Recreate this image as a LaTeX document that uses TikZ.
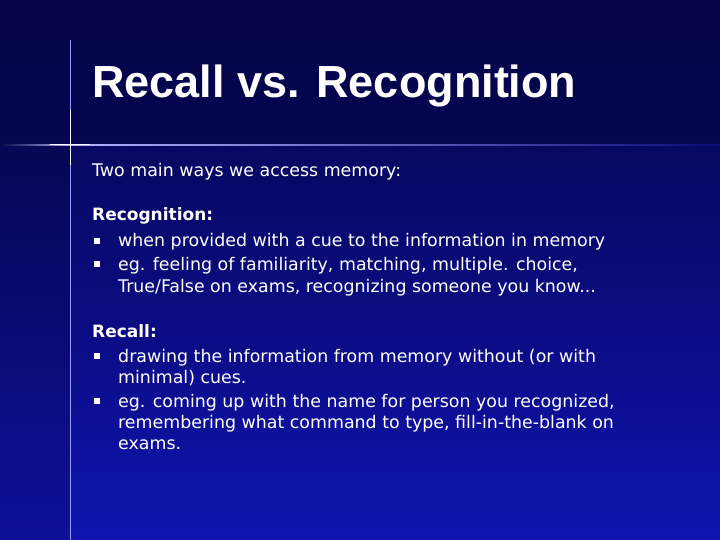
\documentclass[tikz,border=0pt]{standalone}
\usepackage{fontspec}
\setmainfont{DejaVu Sans}
\newfontfamily\titlefont{Liberation Sans}
\definecolor{topc}{RGB}{5,5,70}
\definecolor{midc}{RGB}{10,10,120}
\definecolor{botc}{RGB}{15,20,175}
\tikzset{body/.style={anchor=base west,text=white,font=\fontsize{17.4}{20}\selectfont,inner sep=0},
 bul/.style={fill=white,minimum size=6pt,inner sep=0}}
\begin{document}
\begin{tikzpicture}[x=1pt,y=-1pt]
\useasboundingbox (0,0) rectangle (720,540);
\shade[top color=topc,bottom color=botc,middle color=midc] (0,0) rectangle (720,540);
\fill[topc,opacity=0.5] (0,0) rectangle (720,145);
\fill[black,opacity=0.12] (0,145) rectangle (70,540);
\draw[white!60!blue,line width=0.8pt] (70,40) -- (70,540);
\shade[left color=topc,right color=white!70!blue] (0,144.5) rectangle (70,146);
\shade[left color=white!70!blue,right color=midc] (70,144.5) rectangle (720,146);
\draw[white,line width=1pt] (50,145) -- (90,145) (70,110) -- (70,165);
\node[anchor=base west,text=white,font=\titlefont\bfseries\fontsize{45}{50}\selectfont,inner sep=0] (t) at (92,98) {Recall vs. Recognition};
\node[body] (a) at (92,177) {Two main ways we access memory:};
\node[body,font=\bfseries\fontsize{17}{20}\selectfont] (b) at (92,221) {Recognition:};
\node[bul] (b1) at (97,241) {}; \node[body] (t1) at (118,247) {when provided with a cue to the information in memory};
\node[bul] (b2) at (97,264) {}; \node[body] (t2) at (118,270) {eg. feeling of familiarity, matching, multiple. choice,};
\node[body] (t3) at (118,292) {True/False on exams, recognizing someone you know...};
\node[body,font=\bfseries\fontsize{17}{20}\selectfont] (c) at (92,337) {Recall:};
\node[bul] (c1) at (97,356) {}; \node[body] (u1) at (118,362) {drawing the information from memory without (or with};
\node[body] (u2) at (118,383) {minimal) cues.};
\node[bul] (c2) at (97,401) {}; \node[body] (u3) at (118,407) {eg. coming up with the name for person you recognized,};
\node[body] (u4) at (118,428) {remembering what command to type, fill-in-the-blank on};
\node[body] (u5) at (118,449) {exams.};
\end{tikzpicture}
\end{document}
